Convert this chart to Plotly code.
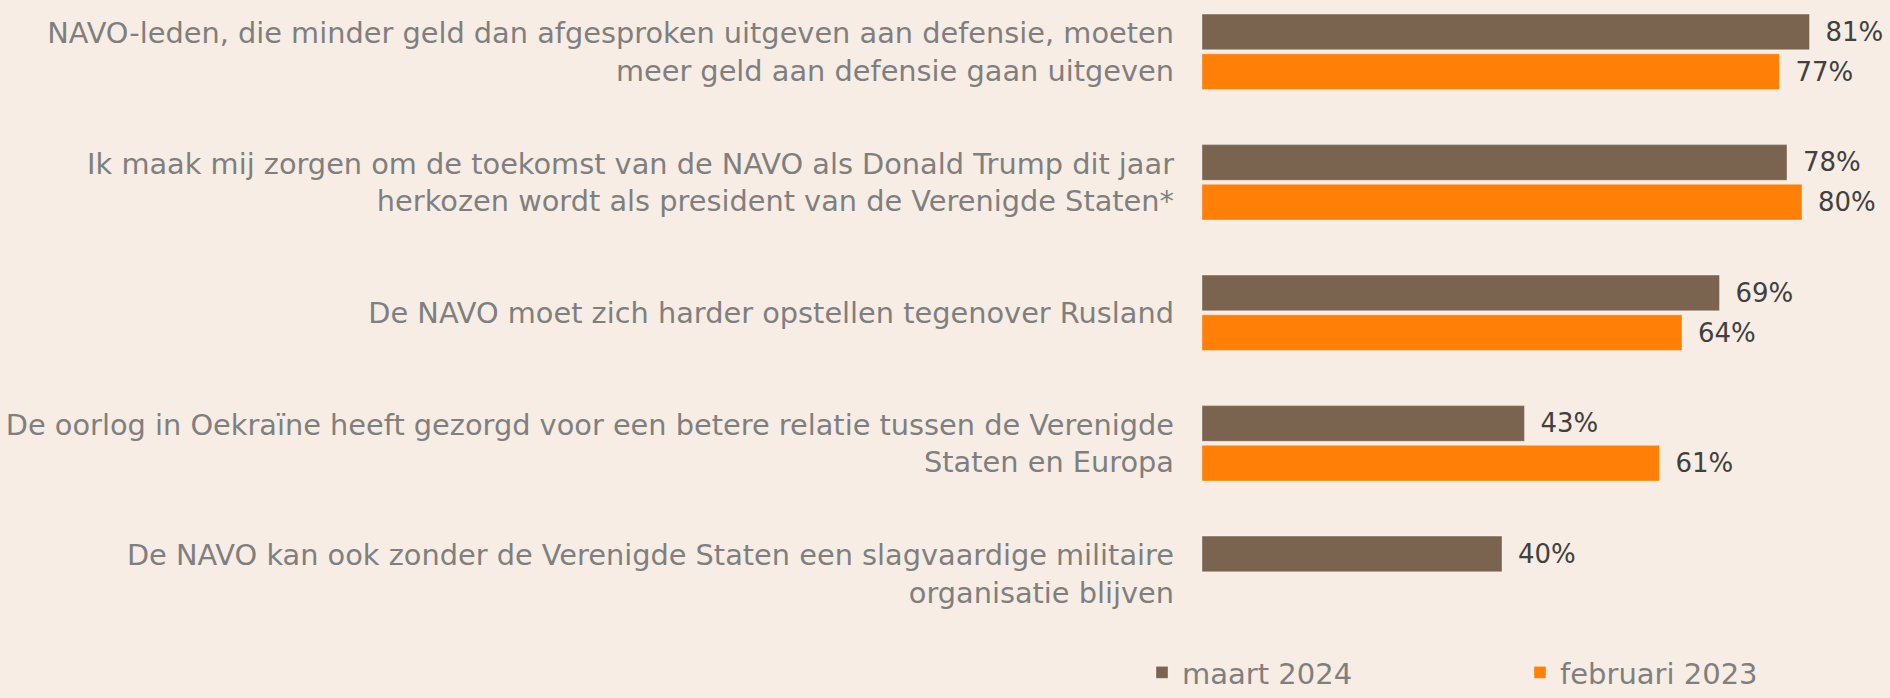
import plotly.graph_objects as go

categories = [
    "NAVO-leden, die minder geld dan afgesproken uitgeven aan defensie, moeten<br>meer geld aan defensie gaan uitgeven",
    "Ik maak mij zorgen om de toekomst van de NAVO als Donald Trump dit jaar<br>herkozen wordt als president van de Verenigde Staten*",
    "De NAVO moet zich harder opstellen tegenover Rusland",
    "De oorlog in Oekraïne heeft gezorgd voor een betere relatie tussen de Verenigde<br>Staten en Europa",
    "De NAVO kan ook zonder de Verenigde Staten een slagvaardige militaire<br>organisatie blijven",
]
maart_2024 = [81, 78, 69, 43, 40]
februari_2023 = [77, 80, 64, 61, None]
series_names = ["maart 2024", "februari 2023"]

FONT = "DejaVu Sans"
BG = "#f7ede4"
L, R, T, B = 1202, 0, 0, 58
W, H = 1890, 698
PW, PH = W - L - R, H - T - B


def labels(vals):
    return ["\u2002" + f"{v}%" if v is not None else "" for v in vals]


def px_to_paper_x(px):
    return (px - L) / PW


def px_to_paper_y(py):
    return (H - B - py) / PH


fig = go.Figure()
fig.add_trace(go.Bar(
    y=categories, x=maart_2024, name=series_names[0], orientation="h",
    marker=dict(color="#7a6450", line=dict(color="rgba(255,255,255,0.35)", width=1)),
    text=labels(maart_2024), textposition="outside", cliponaxis=False,
    textfont=dict(family=FONT, size=26, color="#404040"),
    legend="legend",
))
fig.add_trace(go.Bar(
    y=categories, x=februari_2023, name=series_names[1], orientation="h",
    marker=dict(color="#ff7f07", line=dict(color="rgba(255,255,255,0.35)", width=1)),
    text=labels(februari_2023), textposition="outside", cliponaxis=False,
    textfont=dict(family=FONT, size=26, color="#404040"),
    legend="legend2",
))

legend_common = dict(
    orientation="h", xanchor="left", yanchor="bottom",
    font=dict(family=FONT, size=29, color="#7f7f7f"),
    bgcolor="rgba(0,0,0,0)", borderwidth=0,
)
fig.update_layout(
    width=W, height=H,
    paper_bgcolor=BG, plot_bgcolor=BG,
    barmode="group", bargap=0.392, bargroupgap=0.1,
    margin=dict(l=L, r=R, t=T, b=B, pad=0, autoexpand=False),
    font=dict(family=FONT, color="#7f7f7f"),
    xaxis=dict(range=[0, PW / 7.5], visible=False, fixedrange=True),
    yaxis=dict(
        type="category", categoryorder="array", categoryarray=categories,
        range=[-0.397 + PH / 130.5, -0.397], showgrid=False, zeroline=False, showline=False,
        ticks="", ticklabelstandoff=27, fixedrange=True,
        tickfont=dict(family=FONT, size=28.8, color="#7f7f7f"),
    ),
    legend=dict(x=px_to_paper_x(1142), y=px_to_paper_y(H), **legend_common),
    legend2=dict(x=px_to_paper_x(1520), y=px_to_paper_y(H), **legend_common),
    showlegend=True,
)

fig.write_html("out.html", config={"displayModeBar": False})

with open("out.html", "r", encoding="utf-8") as f:
    html = f.read()
html = html.replace("<head>", "<head><style>html,body{margin:0;padding:0;overflow:hidden;}</style>", 1)
with open("out.html", "w", encoding="utf-8") as f:
    f.write(html)
